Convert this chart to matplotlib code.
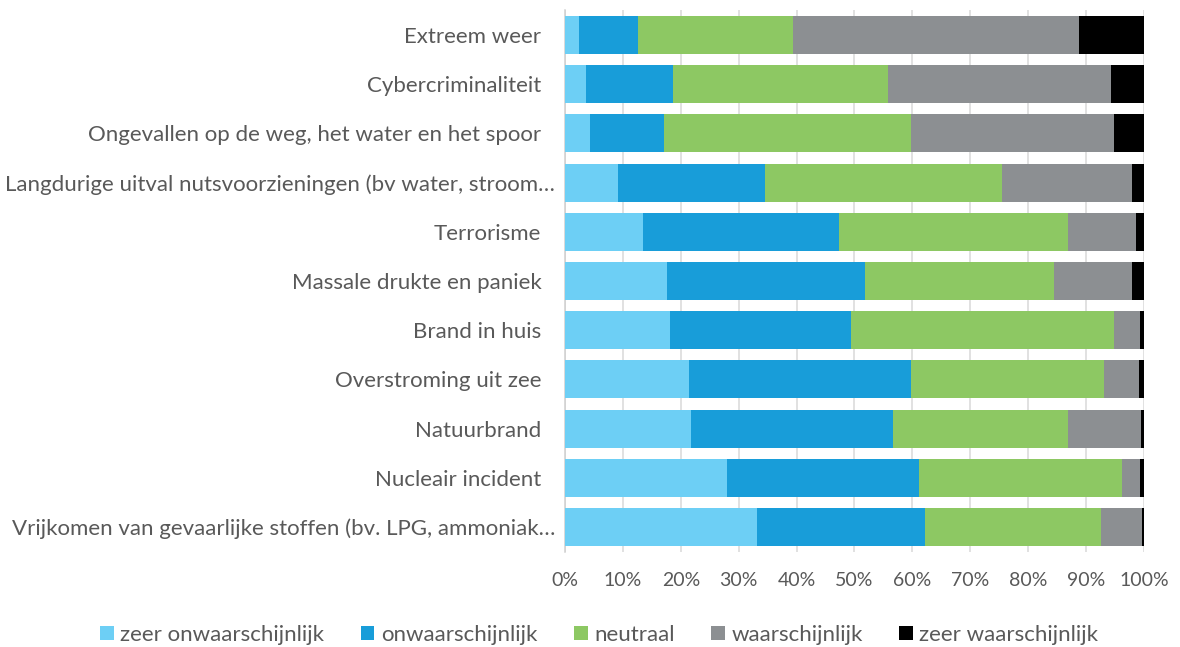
import matplotlib
matplotlib.use("Agg")
import matplotlib.pyplot as plt
import matplotlib.transforms as mtransforms
from matplotlib.patches import Patch
from matplotlib.ticker import FuncFormatter

categories = [
    "Extreem weer",
    "Cybercriminaliteit",
    "Ongevallen op de weg, het water en het spoor",
    "Langdurige uitval nutsvoorzieningen (bv water, stroom…",
    "Terrorisme",
    "Massale drukte en paniek",
    "Brand in huis",
    "Overstroming uit zee",
    "Natuurbrand",
    "Nucleair incident",
    "Vrijkomen van gevaarlijke stoffen (bv. LPG, ammoniak…",
]
series_names = ["zeer onwaarschijnlijk", "onwaarschijnlijk", "neutraal",
                "waarschijnlijk", "zeer waarschijnlijk"]
zeer_onwaarschijnlijk = [2.4, 3.6, 4.4, 9.1, 13.4, 17.7, 18.1, 21.4, 21.8, 28.0, 33.2]
onwaarschijnlijk      = [10.2, 15.1, 12.7, 25.5, 33.9, 34.1, 31.3, 38.4, 34.8, 33.1, 29.0]
neutraal              = [26.7, 37.0, 42.6, 40.8, 39.5, 32.6, 45.4, 33.3, 30.2, 35.1, 30.4]
waarschijnlijk        = [49.4, 38.6, 35.2, 22.5, 11.9, 13.6, 4.5, 6.0, 12.6, 3.1, 7.0]
zeer_waarschijnlijk   = [11.3, 5.7, 5.1, 2.1, 1.3, 2.0, 0.7, 0.9, 0.6, 0.7, 0.4]
x_ticks = [0, 10, 20, 30, 40, 50, 60, 70, 80, 90, 100]

colors = ["#6dcff5", "#189dd9", "#8dc863", "#8c8f92", "#000000"]
text_color = "#595959"
plt.rcParams["font.family"] = ["Lato", "DejaVu Sans"]

fig = plt.figure(figsize=(11.8, 6.47), dpi=100)
ax = fig.add_axes([0.4788, 0.1474, 0.4907, 0.8365])

series = [zeer_onwaarschijnlijk, onwaarschijnlijk, neutraal, waarschijnlijk, zeer_waarschijnlijk]
ypos = list(range(len(categories)))
left = [0.0] * len(categories)
for name, vals, c in zip(series_names, series, colors):
    ax.barh(ypos, vals, left=left, height=0.77, color=c, edgecolor="none",
            label=name, zorder=3)
    left = [l + v for l, v in zip(left, vals)]

ax.set_xlim(0, 100)
ax.set_ylim(len(categories) - 0.5, -0.5)
ax.set_yticks(ypos)
ax.set_yticklabels(categories)
ax.set_xticks(x_ticks)
ax.xaxis.set_major_formatter(FuncFormatter(lambda v, p: f"{int(v)}%"))
ax.grid(axis="x", color="#d9d9d9", linewidth=1.1, zorder=0)
ax.set_axisbelow(True)
for s in ["top", "right", "bottom"]:
    ax.spines[s].set_visible(False)
ax.spines["left"].set_color("#d0d0d0")
ax.spines["left"].set_linewidth(1.1)
ax.tick_params(axis="y", length=0, pad=17, labelsize=16, labelcolor=text_color)
ax.tick_params(axis="x", length=0, pad=15, labelsize=14, labelcolor=text_color)

# truncated labels sit closer to the axis, as in the original
shift = mtransforms.ScaledTranslation(14 / 100, 0, fig.dpi_scale_trans)
for lab, txt in zip(ax.get_yticklabels(), categories):
    if txt.endswith("…"):
        lab.set_transform(lab.get_transform() + shift)

handles = [Patch(facecolor=c, edgecolor="none") for c in colors]
fig.legend(handles, series_names, loc="center", bbox_to_anchor=(0.508, 0.0185),
           ncol=5, frameon=False, fontsize=16, labelcolor=text_color,
           handlelength=0.6, handleheight=0.6, handletextpad=0.3,
           columnspacing=1.65)

fig.savefig("out.png", dpi=100, facecolor="white")
